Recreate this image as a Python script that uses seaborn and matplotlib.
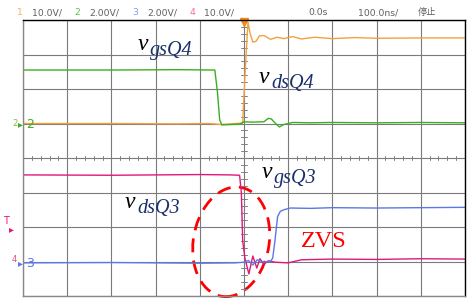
import seaborn as sns
import matplotlib.pyplot as plt
from matplotlib.patches import Ellipse

W, H = 467, 302

# scope traces, x in divisions (100 ns/div), y in divisions (0 = screen centre)
t_ch1 = [-5.0, -3.0, -1.5, -0.8, -0.5, -0.2, -0.03, 0.03, 0.09, 0.14, 0.2, 0.27,
         0.35, 0.45, 0.6, 0.75, 0.9, 1.1, 1.3, 1.6, 2.0, 2.5, 3.0, 4.0, 5.0]
v_ch1 = [1.0, 1.0, 0.99, 1.0, 0.97, 1.0, 1.01, 2.6, 3.94, 3.6, 3.36, 3.38,
         3.54, 3.55, 3.44, 3.5, 3.46, 3.52, 3.45, 3.5, 3.46, 3.49, 3.47, 3.48, 3.48]

t_ch2 = [-5.0, -3.0, -1.5, -0.66, -0.6, -0.55, -0.5, -0.3, -0.1, 0.0, 0.2, 0.45,
         0.55, 0.62, 0.7, 0.8, 0.9, 1.1, 1.5, 2.0, 3.0, 4.0, 5.0]
v_ch2 = [2.55, 2.55, 2.56, 2.55, 1.9, 1.1, 0.96, 0.97, 0.98, 1.05, 1.04, 1.05,
         1.15, 1.13, 1.02, 0.9, 0.97, 1.03, 1.02, 1.03, 1.02, 1.03, 1.02]

t_ch3 = [-5.0, -3.0, -1.0, -0.2, 0.0, 0.1, 0.2, 0.3, 0.45, 0.6, 0.65, 0.7,
         0.76, 0.82, 0.9, 1.05, 1.5, 2.0, 3.0, 4.0, 5.0]
v_ch3 = [-3.04, -3.03, -3.05, -3.04, -3.02, -2.97, -3.1, -2.95, -3.02, -3.0, -2.9, -2.4,
         -1.7, -1.55, -1.5, -1.45, -1.46, -1.44, -1.45, -1.44, -1.43]

t_ch4 = [-5.0, -3.0, -1.0, -0.3, -0.1, -0.06, -0.03, 0.02, 0.11, 0.2, 0.29, 0.36,
         0.45, 0.55, 0.7, 1.0, 1.3, 2.0, 3.0, 4.0, 5.0]
v_ch4 = [-0.49, -0.5, -0.48, -0.49, -0.5, -1.0, -2.4, -2.9, -3.36, -2.84, -3.19, -2.92,
         -3.08, -2.98, -3.02, -3.04, -2.95, -2.93, -2.94, -2.92, -2.93]

ch_colors = ['#f0a23c', '#3cae1e', '#5a78e6', '#e0187a']

header = [('1', '#f5b06a', 17), ('10.0V/', '#606060', 32),
          ('2', '#5cc050', 74), ('2.00V/', '#606060', 89),
          ('3', '#8c9be8', 132), ('2.00V/', '#606060', 147),
          ('4', '#f06aa8', 190), ('10.0V/', '#606060', 204),
          ('0.0s', '#606060', 308), ('100.0ns/', '#606060', 358),
          ('停止', '#606060', 418)]

sns.set_style("white")
plt.rcParams['font.family'] = ['DejaVu Sans', 'Noto Sans CJK SC']


def px(x, y):
    return x / W, 1 - y / H


fig = plt.figure(figsize=(W / 100, H / 100), dpi=100)
ax = fig.add_axes([23 / W, 1 - 296 / H, 442 / W, 276 / H])

# graticule
ax.set_xlim(-5, 5)
ax.set_ylim(-4, 4)
ax.set_xticks(range(-5, 6))
ax.set_yticks(range(-4, 5))
ax.grid(True, color='#7a7a7a', lw=0.8)
ax.tick_params(length=0, labelbottom=False, labelleft=False)
for side, c in [('top', 'black'), ('right', 'black'), ('left', '#888888'), ('bottom', '#888888')]:
    ax.spines[side].set_color(c)
    ax.spines[side].set_linewidth(1.0)
for i in range(-25, 26):
    ax.plot([i / 5, i / 5], [-0.07, 0.07], color='#808080', lw=0.7)
for i in range(-20, 21):
    ax.plot([-0.06, 0.06], [i / 5, i / 5], color='#808080', lw=0.7)

traces = [(t_ch1, v_ch1, ch_colors[0]), (t_ch2, v_ch2, ch_colors[1]),
          (t_ch4, v_ch4, ch_colors[3]), (t_ch3, v_ch3, ch_colors[2])]
for t, v, c in traces:
    sns.lineplot(x=t, y=v, color=c, lw=1.0, ax=ax, estimator=None, sort=False)

# trigger position marker
ax.plot([0], [3.95], marker='v', color='#f08a20', ms=6, clip_on=False)

# ZVS ellipse
ax.add_patch(Ellipse((-0.29, -2.43), 1.72, 3.19, angle=-6, fill=False,
                     edgecolor='red', lw=2.0, linestyle=(0, (5, 3)), clip_on=False))

# header
for txt, c, x in header:
    fig.text(*px(x, 15), txt, color=c, fontsize=6.7, va='baseline')

# channel markers on the left
fig.text(*px(12, 126), '2', color='#7cc040', fontsize=6, va='baseline')
fig.text(*px(18, 127), '▸', color='#3cae1e', fontsize=7, va='baseline')
fig.text(*px(26, 128), '2', color='#3cae1e', fontsize=9, va='baseline')
fig.text(*px(3, 224), 'T', color='#e0187a', fontsize=7, va='baseline')
fig.text(*px(9, 232), '▸', color='#e0187a', fontsize=7, va='baseline')
fig.text(*px(12, 262), '4', color='#e05080', fontsize=6, va='baseline')
fig.text(*px(18, 266), '▸', color='#5a78e6', fontsize=7, va='baseline')
fig.text(*px(26, 267), '3', color='#5a78e6', fontsize=9, va='baseline')

# signal labels: italic v with subscript
labels = [(138, 50, 'gsQ4'), (259, 83, 'dsQ4'),
          (125, 208, 'dsQ3'), (262, 178, 'gsQ3')]
for x, y, sub in labels:
    fig.text(*px(x, y), 'v', color='black', fontsize=17, style='italic',
             family='Liberation Serif', va='baseline')
    fig.text(*px(x + 12, y + 5), sub, color='#1a2f6b', fontsize=14.5, style='italic',
             family='Liberation Serif', va='baseline')

fig.text(*px(301, 247), 'ZVS', color='red', fontsize=17.5,
         family='Liberation Serif', va='baseline')

fig.savefig('out.png', dpi=100, facecolor='white')
